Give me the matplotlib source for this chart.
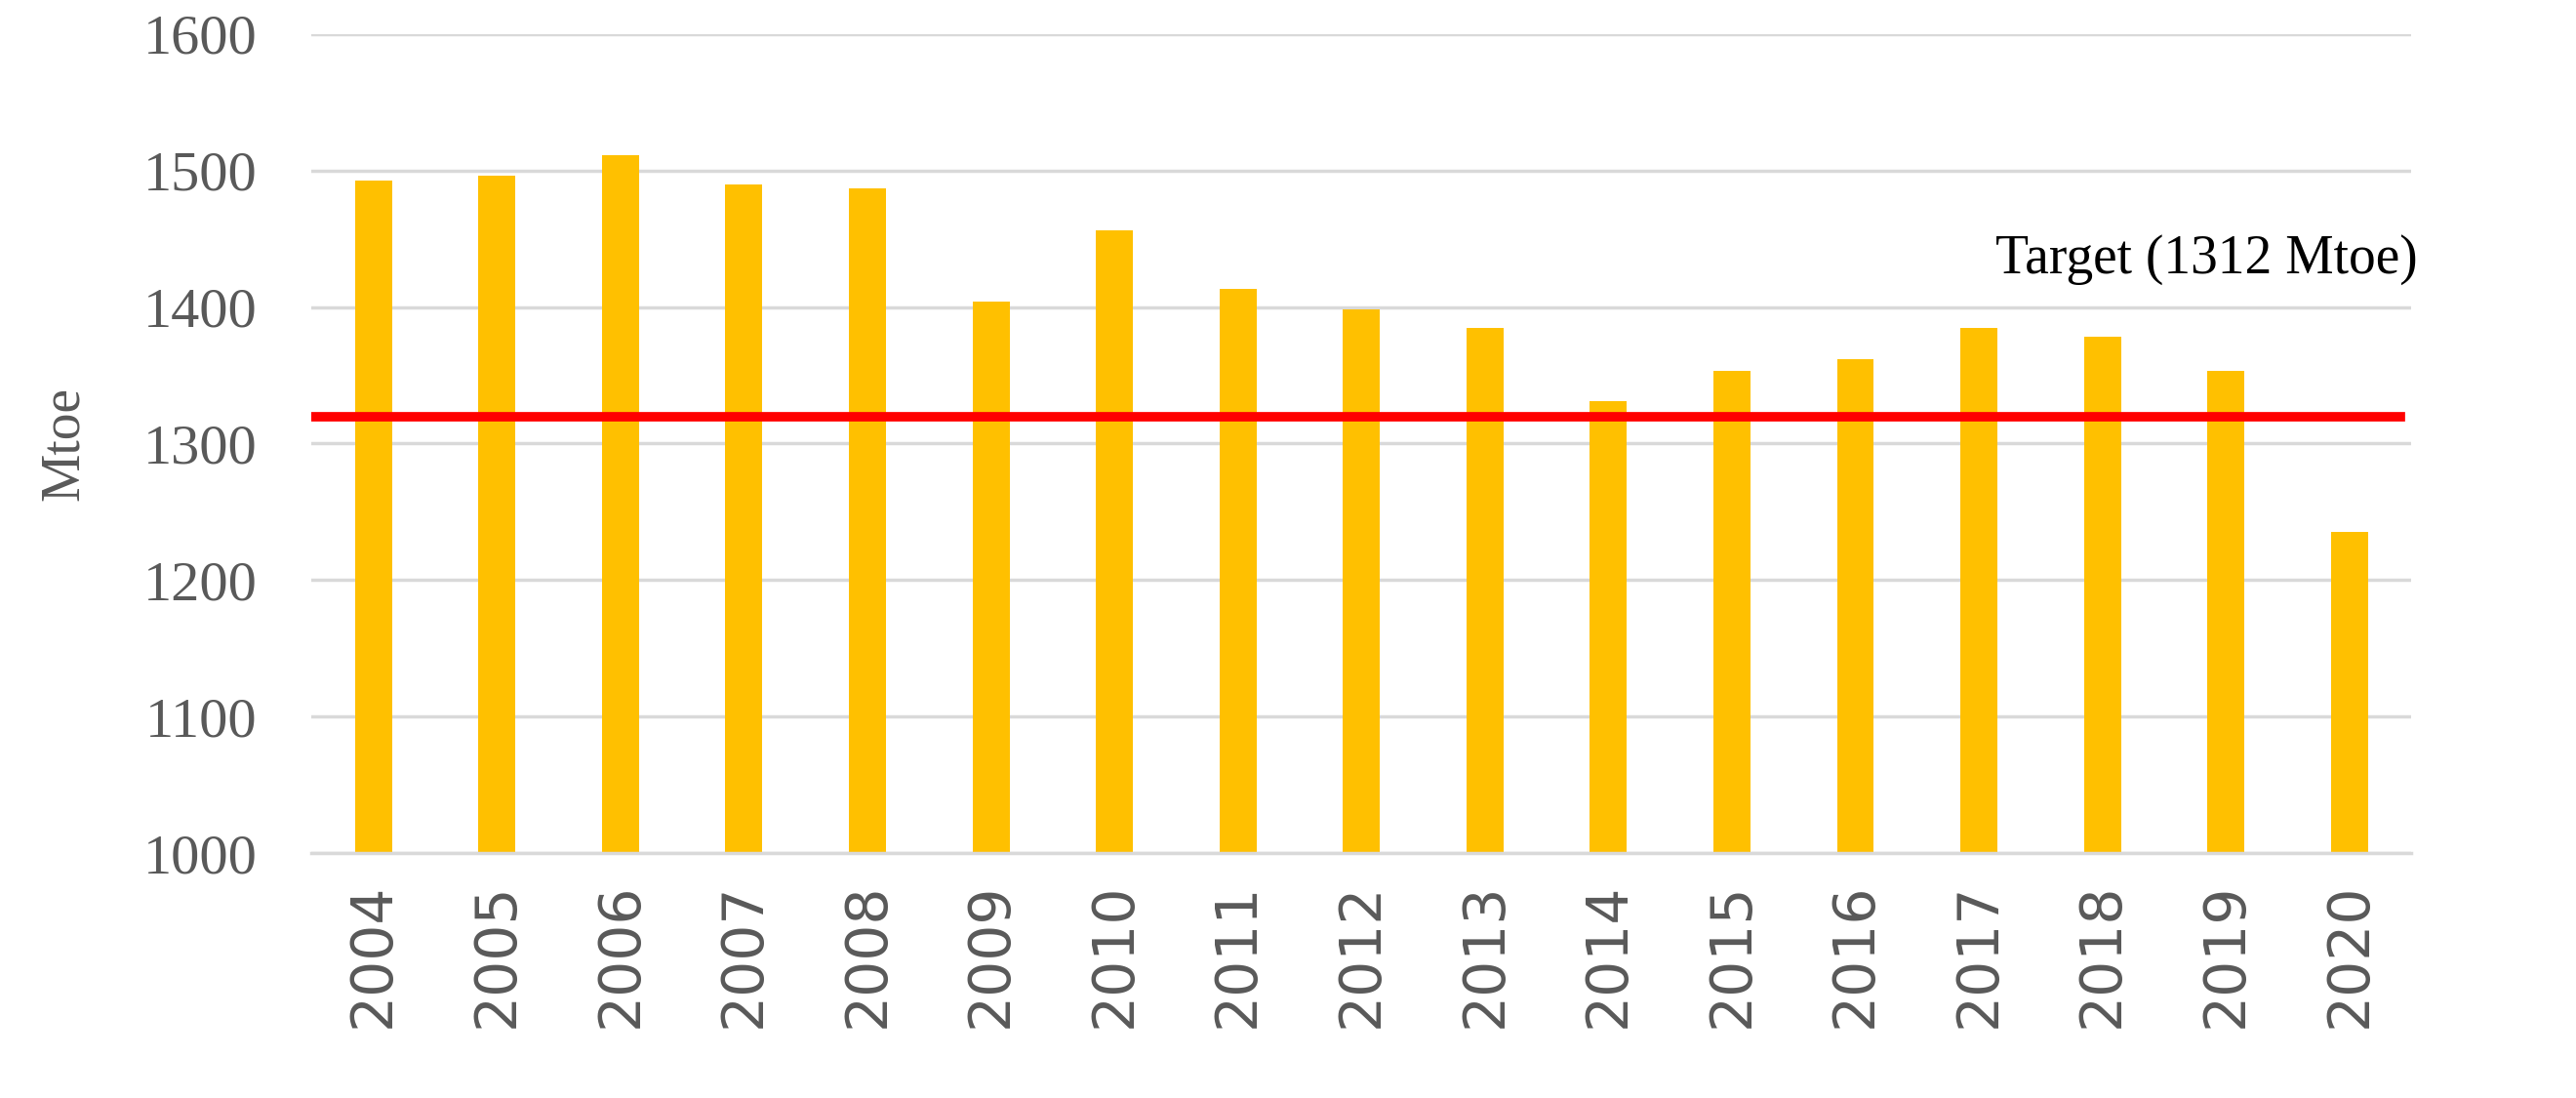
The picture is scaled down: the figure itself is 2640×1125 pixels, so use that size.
import matplotlib
matplotlib.use("Agg")
import matplotlib.pyplot as plt

years = ["2004","2005","2006","2007","2008","2009","2010","2011","2012","2013","2014","2015","2016","2017","2018","2019","2020"]
values = [1493,1496,1511,1490,1487,1404,1456,1413,1398,1385,1331,1353,1362,1385,1378,1353,1235]
target_line = 1320
target_label = "Target (1312 Mtoe)"

fig = plt.figure(figsize=(26.4, 11.25), dpi=100)
ax = fig.add_axes([0.121, 0.223, 0.815, 0.746])
x = list(range(len(years)))
ax.bar(x, values, width=0.3, color="#FFC000", zorder=2)
ax.axhline(target_line, color="#FF0000", lw=7, zorder=3, xmin=0.0, xmax=0.995)
ax.set_ylim(1000, 1600)
ax.set_xlim(-0.5, len(years)-0.5)
ax.set_yticks(range(1000, 1601, 100))
ax.yaxis.grid(True, color="#D9D9D9", lw=2.5, zorder=0)
for s in ax.spines.values():
    s.set_visible(False)
ax.spines["bottom"].set_visible(True)
ax.spines["bottom"].set_color("#D9D9D9")
ax.spines["bottom"].set_linewidth(2.5)
ax.tick_params(length=0)
ax.set_xticks(x)
ax.set_xticklabels(years, rotation=90, fontsize=42, color="#595959", family="DejaVu Sans")
for t in ax.get_yticklabels():
    t.set_fontsize(42); t.set_color("#595959"); t.set_family("Liberation Serif")
ax.tick_params(axis="y", pad=40)
ax.tick_params(axis="x", pad=22)
ax.set_ylabel("Mtoe", fontsize=40, color="#595959", family="Liberation Serif", labelpad=40)
ax.text(len(years)-0.45, 1435, target_label, ha="right", va="center", fontsize=40, family="Liberation Serif", color="black")
fig.savefig("out.png", dpi=100)
